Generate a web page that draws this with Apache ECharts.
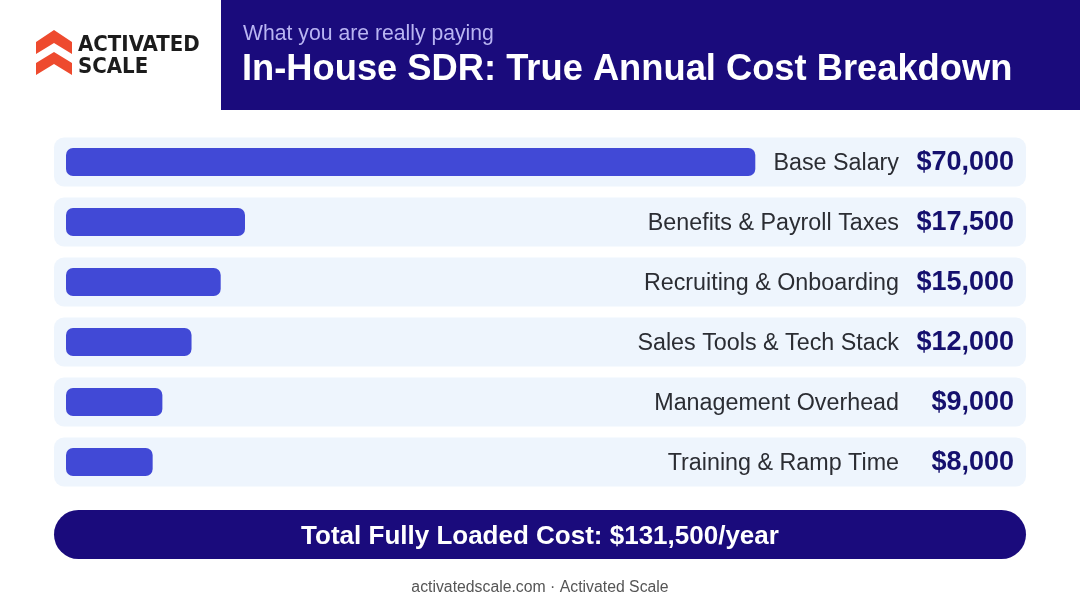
<!DOCTYPE html>
<html>
<head>
<meta charset="utf-8">
<script src="https://cdn.jsdelivr.net/npm/echarts@6/dist/echarts.min.js"></script>
<style>html,body{margin:0;padding:0;background:#fff}#c{width:1080px;height:603px}</style>
</head>
<body>
<div id="c"></div>
<script>
const categories = ['Base Salary', 'Benefits & Payroll Taxes', 'Recruiting & Onboarding', 'Sales Tools & Tech Stack', 'Management Overhead', 'Training & Ramp Time'];
const costs = [70000, 17500, 15000, 12000, 9000, 8000];
const subtitle = 'What you are really paying';
const title = 'In-House SDR: True Annual Cost Breakdown';
const footer = 'activatedscale.com \u00b7 Activated Scale';

const FAM = 'Liberation Sans';
const fmt = v => '$' + v.toLocaleString('en-US');
const total = costs.reduce((a, b) => a + b, 0);

function txt(text, x, y, size, weight, fill, align) {
  return {type: 'text', style: {text: text, x: x, y: y, align: align || 'left', verticalAlign: 'middle',
    fontFamily: FAM, fontSize: size, fontWeight: weight, fill: fill}};
}

const chart = echarts.init(document.getElementById('c'), null, {renderer: 'canvas'});
chart.setOption({
  animation: false,
  backgroundColor: '#ffffff',
  grid: {left: 54, right: 54, top: 132, bottom: 111},
  xAxis: {type: 'value', min: -2150, max: 97850, show: false},
  yAxis: {type: 'category', data: categories, inverse: true, show: false},
  series: [{
    type: 'custom',
    encode: {x: 0, y: 1},
    data: costs.map((v, i) => [v, i]),
    renderItem: function (params, api) {
      const idx = api.value(1);
      const val = api.value(0);
      const cs = params.coordSys;
      const end = api.coord([val, idx]);
      const cy = end[1];
      const trackH = 49, barH = 28;
      const x0 = cs.x + 12;
      return {
        type: 'group',
        children: [
          {type: 'rect', shape: {x: cs.x, y: cy - trackH / 2, width: cs.width, height: trackH, r: 10}, style: {fill: '#eef5fd'}},
          {type: 'rect', shape: {x: x0, y: cy - barH / 2, width: end[0] - x0, height: barH, r: 7}, style: {fill: '#4149d6'}},
          txt(categories[idx], cs.x + cs.width - 127, cy + 1.5, 23.3, 'normal', '#2b2d33', 'right'),
          txt(fmt(val), cs.x + cs.width - 12, cy + 1, 27, 'bold', '#15106e', 'right')
        ]
      };
    }
  }],
  graphic: [
    {type: 'rect', shape: {x: 221, y: 0, width: 859, height: 110}, style: {fill: '#1a0b7c'}},
    txt(subtitle, 243, 34.5, 21.2, 'normal', '#b9b5f2'),
    txt(title, 242, 69.5, 36.3, 'bold', '#ffffff'),
    {type: 'polygon', shape: {points: [[36, 42], [54, 30], [72, 42], [72, 54], [54, 43], [36, 54]]}, style: {fill: '#ee4a2e'}},
    {type: 'polygon', shape: {points: [[36, 63], [54, 52], [72, 63], [72, 75], [54, 64], [36, 75]]}, style: {fill: '#ee4a2e'}},
    {type: 'text', style: {text: 'ACTIVATED', x: 78, y: 45.5, verticalAlign: 'middle', fontFamily: 'DejaVu Sans Condensed', fontSize: 22, fontWeight: 'bold', fill: '#1c1c1c'}},
    {type: 'text', style: {text: 'SCALE', x: 78, y: 67.5, verticalAlign: 'middle', fontFamily: 'DejaVu Sans Condensed', fontSize: 22, fontWeight: 'bold', fill: '#1c1c1c'}},
    {type: 'rect', shape: {x: 54, y: 510, width: 972, height: 49, r: 24.5}, style: {fill: '#1a0b7c'}},
    txt('Total Fully Loaded Cost: ' + fmt(total) + '/year', 540, 536.5, 26, 'bold', '#ffffff', 'center'),
    txt(footer, 540, 587.5, 15.8, 'normal', '#555555', 'center')
  ]
});
</script>
</body>
</html>
